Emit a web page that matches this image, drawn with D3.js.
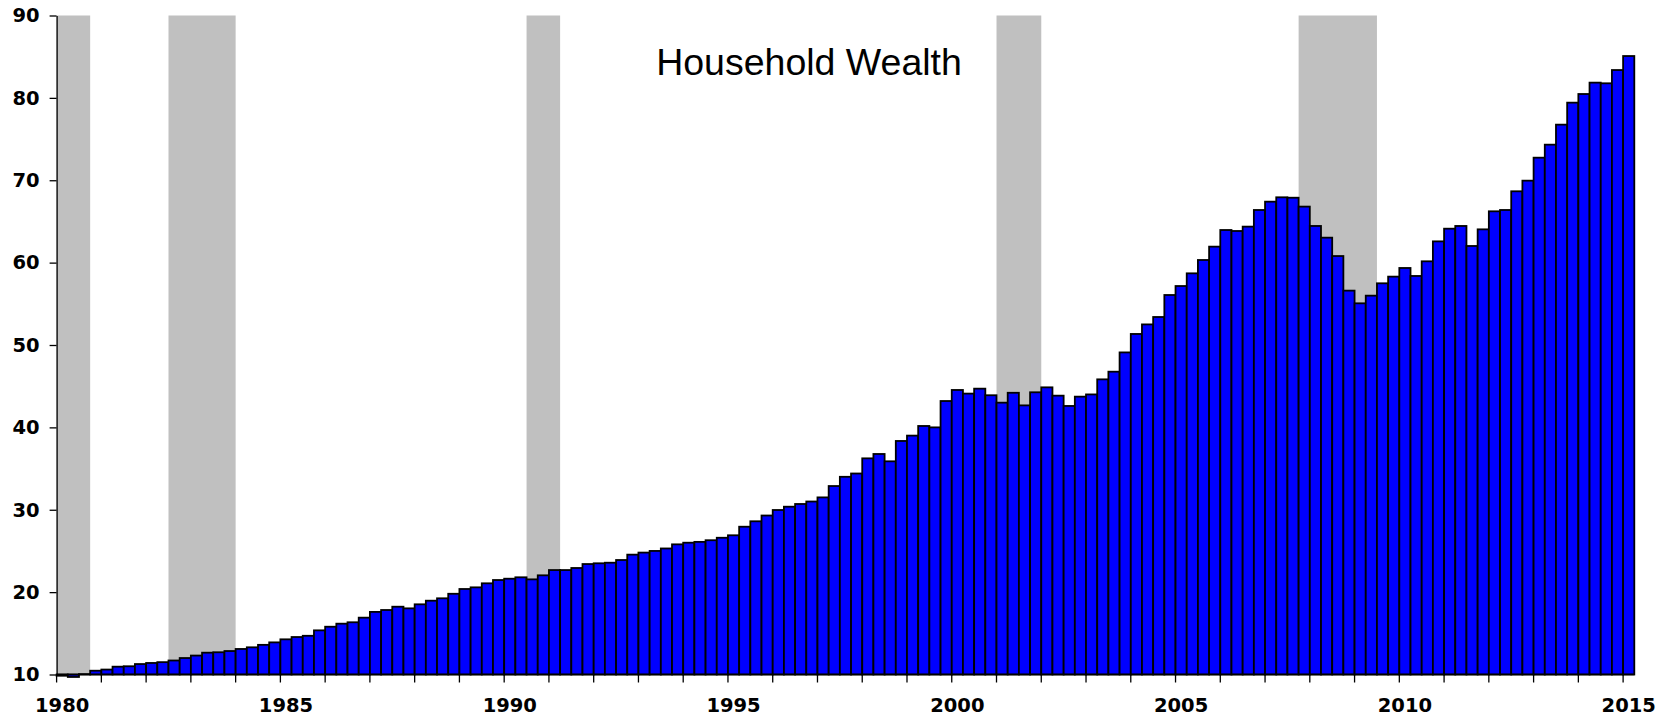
<!DOCTYPE html>
<html>
<head>
<meta charset="utf-8">
<script src="https://cdn.jsdelivr.net/npm/d3@7"></script>
<style>
  body { margin: 0; background: #fff; }
  .axis text { font-family: "DejaVu Sans", Verdana, sans-serif; font-weight: bold; font-size: 19.5px; fill: #000; }
  .axis path, .axis line { stroke: #000; stroke-width: 1.3px; }
</style>
</head>
<body>
<div class="grafico"></div>
<script>
// household wealth, trillions of dollars, quarterly 1980Q1 - 2015Q1
const years = d3.range(1980, 2016);
const quarters = [];
years.forEach(y => ["Q1", "Q2", "Q3", "Q4"].forEach(q => quarters.push(y + q)));
quarters.length = 141;

const wealth = [
  9.85, 9.7, 10.05, 10.46, 10.6, 10.95, 11.0, 11.27, 11.4, 11.5,
  11.7, 12.0, 12.3, 12.65, 12.7, 12.85, 13.1, 13.3, 13.6, 13.9,
  14.27, 14.55, 14.7, 15.36, 15.8, 16.17, 16.34, 16.9, 17.6, 17.83,
  18.23, 18.03, 18.52, 18.96, 19.25, 19.8, 20.38, 20.58, 21.07, 21.47,
  21.63, 21.8, 21.55, 22.04, 22.68, 22.68, 22.93, 23.41, 23.5, 23.57,
  23.9, 24.55, 24.8, 25.0, 25.3, 25.8, 26.0, 26.1, 26.3, 26.6,
  26.9, 27.94, 28.6, 29.3, 29.97, 30.37, 30.7, 31.0, 31.5, 32.88,
  34.0, 34.4, 36.24, 36.77, 35.88, 38.35, 39.0, 40.17, 40.0, 43.2,
  44.54, 44.1, 44.7, 43.9, 43.0, 44.2, 42.67, 44.26, 44.86, 43.85,
  42.6, 43.73, 44.0, 45.83, 46.76, 49.1, 51.34, 52.5, 53.4, 56.07,
  57.16, 58.7, 60.32, 61.94, 63.96, 63.84, 64.37, 66.39, 67.4, 67.93,
  67.88, 66.8, 64.45, 63.03, 60.8, 56.6, 55.06, 55.99, 57.49, 58.3,
  59.35, 58.38, 60.16, 62.58, 64.12, 64.45, 62.02, 64.04, 66.23, 66.39,
  68.66, 69.95, 72.74, 74.32, 76.75, 79.42, 80.47, 81.85, 81.77, 83.38,
  85.08
];

// shaded periods as they appear on the chart
const recessions = [
  ["1980Q1", "1980Q3"],
  ["1982Q3", "1983Q4"],
  ["1990Q3", "1991Q1"],
  ["2001Q1", "2001Q4"],
  ["2007Q4", "2009Q2"]
];

const yTicks = [10, 20, 30, 40, 50, 60, 70, 80, 90];
const labelYears = [1980, 1985, 1990, 1995, 2000, 2005, 2010, 2015];
const title = "Household Wealth";

const width = 1656, height = 721;
const plotLeft = 56.6, plotRight = 1634.3, plotTop = 15.5, plotBottom = 674.5;

const svg = d3.select(".grafico")
    .append("svg")
    .attr("width", width)
    .attr("height", height);

const x = d3.scaleBand()
    .domain(quarters)
    .range([plotLeft, plotRight])
    .padding(0);

const y = d3.scaleLinear()
    .domain([10, 90])
    .range([plotBottom, plotTop]);

// recession shading
svg.append("g")
    .selectAll("rect")
    .data(recessions)
    .enter().append("rect")
    .attr("x", d => x(d[0]))
    .attr("width", d => x(d[1]) + x.bandwidth() - x(d[0]))
    .attr("y", y(90))
    .attr("height", y(10) - y(90))
    .attr("fill", "#c0c0c0");

// bars
svg.append("g")
    .selectAll("rect")
    .data(wealth)
    .enter().append("rect")
    .attr("x", (d, i) => x(quarters[i]))
    .attr("width", x.bandwidth())
    .attr("y", d => Math.min(y(d), y(10)))
    .attr("height", d => Math.abs(y(10) - y(d)))
    .attr("fill", "#0000ff")
    .attr("stroke", "#000")
    .attr("stroke-width", 1.8);

// y axis
svg.append("g")
    .attr("class", "axis")
    .attr("transform", `translate(${plotLeft},0)`)
    .call(d3.axisLeft(y).tickValues(yTicks).tickSizeInner(7).tickSizeOuter(0).tickPadding(10));

// x axis: ticks at the start of every year, labels every 5 years
const xAxis = svg.append("g")
    .attr("class", "axis")
    .attr("transform", `translate(0,${plotBottom})`);

xAxis.append("line")
    .attr("x1", plotLeft)
    .attr("x2", plotRight);

xAxis.selectAll(".tick")
    .data(years)
    .enter().append("line")
    .attr("class", "tick")
    .attr("x1", d => x(d + "Q1"))
    .attr("x2", d => x(d + "Q1"))
    .attr("y1", 0)
    .attr("y2", 8);

xAxis.selectAll(".lbl")
    .data(labelYears)
    .enter().append("text")
    .attr("class", "lbl")
    .attr("x", d => x(d + "Q1") + x.bandwidth() / 2)
    .attr("y", 37.5)
    .attr("text-anchor", "middle")
    .text(d => d);

svg.append("text")
    .attr("x", 809)
    .attr("y", 75)
    .attr("text-anchor", "middle")
    .style("font-family", "'Liberation Sans', Arial, sans-serif")
    .style("font-size", "37.5px")
    .text(title);
</script>
</body>
</html>
